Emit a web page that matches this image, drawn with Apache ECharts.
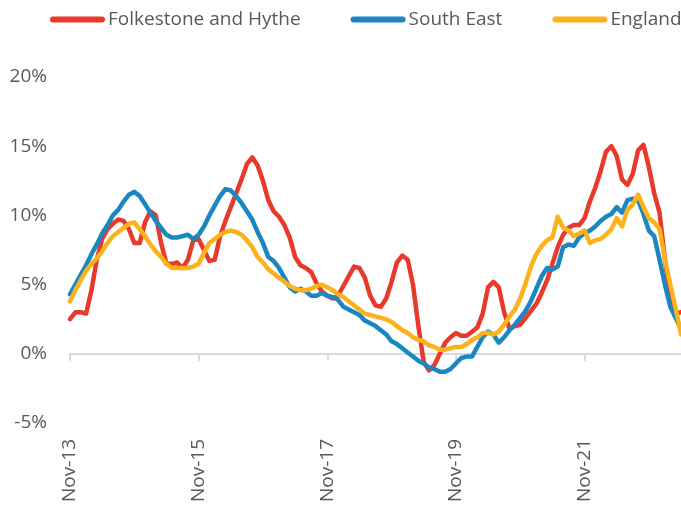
<!DOCTYPE html>
<html>
<head>
<meta charset="utf-8">
<script src="https://cdn.jsdelivr.net/npm/echarts@6/dist/echarts.min.js"></script>
<style>
html,body{margin:0;padding:0;background:#fff;}
#chart{width:681px;height:511px;}
</style>
</head>
<body>
<div id="chart"></div>
<script>
// Monthly series, Nov-13 .. May-23 (annual % change)
const startYear = 2013, startMonth = 10; // Nov 2013 (0-based month)
const monthNames = ['Jan','Feb','Mar','Apr','May','Jun','Jul','Aug','Sep','Oct','Nov','Dec'];

const folkestone = [
  2.5, 3.0, 3.0, 2.9, 4.6, 6.8, 8.3, 9.0, 9.4, 9.7,
  9.6, 9.0, 8.0, 8.0, 9.5, 10.3, 10.0, 8.0, 6.5, 6.5,
  6.6, 6.2, 6.8, 8.2, 8.3, 7.5, 6.7, 6.8, 8.5, 9.6,
  10.6, 11.6, 12.6, 13.7, 14.2, 13.6, 12.5, 11.1, 10.3, 9.9,
  9.3, 8.4, 7.0, 6.4, 6.2, 5.9, 5.1, 4.5, 4.2, 4.0,
  4.2, 4.9, 5.6, 6.3, 6.2, 5.5, 4.2, 3.5, 3.4, 4.0,
  5.2, 6.6, 7.1, 6.8, 5.0, 2.0, -0.6, -1.2, -0.8, 0.0,
  0.8, 1.2, 1.5, 1.3, 1.3, 1.6, 1.9, 2.9, 4.8, 5.2,
  4.8, 3.0, 1.8, 2.0, 2.1, 2.6, 3.1, 3.6, 4.4, 5.3,
  6.5, 7.7, 8.6, 9.1, 9.3, 9.3, 9.8, 11.0, 12.0, 13.2,
  14.6, 15.0, 14.3, 12.6, 12.2, 13.0, 14.7, 15.1, 13.5, 11.6,
  10.2, 6.8, 4.0, 2.9, 3.0
];
const southEast = [
  4.3, 5.0, 5.7, 6.4, 7.2, 7.9, 8.7, 9.3, 10.0, 10.4,
  11.0, 11.5, 11.7, 11.4, 10.8, 10.2, 9.6, 9.1, 8.6, 8.4,
  8.4, 8.5, 8.6, 8.3, 8.6, 9.2, 10.0, 10.7, 11.4, 11.9,
  11.8, 11.4, 10.9, 10.3, 9.7, 8.8, 8.0, 7.0, 6.7, 6.2,
  5.5, 4.8, 4.5, 4.7, 4.5, 4.2, 4.2, 4.4, 4.2, 4.1,
  3.9, 3.4, 3.2, 3.0, 2.8, 2.4, 2.2, 2.0, 1.7, 1.4,
  0.9, 0.7, 0.4, 0.1, -0.2, -0.5, -0.7, -1.0, -1.1, -1.3,
  -1.3, -1.1, -0.7, -0.3, -0.2, -0.2, 0.5, 1.2, 1.6, 1.4,
  0.8, 1.2, 1.7, 2.1, 2.6, 3.1, 3.8, 4.7, 5.6, 6.2,
  6.1, 6.3, 7.7, 7.9, 7.8, 8.4, 8.7, 8.9, 9.2, 9.6,
  9.9, 10.1, 10.6, 10.2, 11.1, 11.2, 11.1, 10.1, 8.9, 8.5,
  6.8, 5.0, 3.4, 2.6, 1.8
];
const england = [
  3.8, 4.6, 5.3, 6.0, 6.5, 6.9, 7.4, 8.0, 8.5, 8.8,
  9.1, 9.4, 9.5, 9.0, 8.5, 7.9, 7.4, 7.0, 6.5, 6.2,
  6.2, 6.2, 6.2, 6.3, 6.5, 7.3, 8.0, 8.3, 8.6, 8.8,
  8.9, 8.8, 8.6, 8.2, 7.7, 7.0, 6.6, 6.1, 5.8, 5.5,
  5.2, 4.9, 4.7, 4.6, 4.6, 4.7, 4.9, 5.0, 4.8, 4.6,
  4.3, 4.1, 3.8, 3.5, 3.2, 2.9, 2.8, 2.7, 2.6, 2.5,
  2.3, 2.0, 1.7, 1.5, 1.2, 1.0, 0.9, 0.6, 0.5, 0.3,
  0.3, 0.4, 0.5, 0.5, 0.7, 1.0, 1.2, 1.5, 1.5, 1.4,
  1.6, 2.1, 2.7, 3.2, 4.0, 5.1, 6.3, 7.2, 7.8, 8.2,
  8.4, 9.9, 9.1, 8.9, 8.5, 8.7, 8.9, 8.0, 8.2, 8.3,
  8.6, 9.0, 9.8, 9.2, 10.4, 10.8, 11.5, 10.6, 9.8, 9.5,
  9.0, 6.8, 5.0, 3.3, 1.4
];
const seriesNames = ['Folkestone and Hythe', 'South East', 'England'];
const yTicks = [-5, 0, 5, 10, 15, 20];

const categories = [];
for (let i = 0; i < folkestone.length; i++) {
  const m = (startMonth + i) % 12;
  const y = startYear + Math.floor((startMonth + i) / 12);
  categories.push(monthNames[m] + '-' + String(y % 100).padStart(2, '0'));
}

const colors = ['#E8392B', '#1B87C0', '#FBB21B'];
const txt = '#595959';
const font = 'Open Sans';

const chart = echarts.init(document.getElementById('chart'), null, {renderer: 'canvas'});
const pill = 'path://M3,0 L52,0 A3,3 0 0 1 52,6 L3,6 A3,3 0 0 1 3,0 Z';

chart.setOption({
  animation: false,
  backgroundColor: '#ffffff',
  color: colors,
  legend: {
    data: seriesNames.map(n => ({name: n, icon: pill})),
    orient: 'horizontal',
    left: 45,
    top: 5,
    width: 900,
    itemWidth: 55,
    itemHeight: 6,
    itemGap: 50,
    textStyle: {color: txt, fontSize: 19, fontFamily: font, padding: [0,0,0,-2]}
  },
  grid: {left: 70, right: 0, top: 77, bottom: 88, containLabel: false, outerBoundsMode: 'none'},
  xAxis: [
    {
      type: 'category',
      data: categories,
      boundaryGap: false,
      position: 'bottom',
      axisLine: {show: false, onZero: false},
      axisTick: {show: false},
      splitLine: {show: false},
      axisLabel: {
        interval: 23,
        rotate: 90,
        margin: 16,
        color: txt,
        fontSize: 19,
        fontFamily: font
      }
    },
    {
      type: 'category',
      data: categories,
      boundaryGap: false,
      position: 'bottom',
      axisLine: {show: true, onZero: true, onZeroAxisIndex: 0, lineStyle: {color: '#D9D9D9', width: 2}},
      axisTick: {show: true, interval: 23, length: 7, lineStyle: {color: '#D9D9D9', width: 2}},
      axisLabel: {show: false},
      splitLine: {show: false}
    }
  ],
  yAxis: {
    type: 'value',
    min: yTicks[0],
    max: yTicks[yTicks.length - 1],
    interval: 5,
    axisLine: {show: false},
    axisTick: {show: false},
    splitLine: {show: false},
    axisLabel: {
      formatter: '{value}%',
      color: txt,
      fontSize: 19,
      fontFamily: font,
      margin: 23
    }
  },
  series: [
    {name: seriesNames[0], type: 'line', data: folkestone, xAxisIndex: 0},
    {name: seriesNames[1], type: 'line', data: southEast, xAxisIndex: 0},
    {name: seriesNames[2], type: 'line', data: england, xAxisIndex: 0}
  ].map((s, i) => Object.assign(s, {
    showSymbol: false,
    symbol: 'none',
    lineStyle: {width: 4.5, color: colors[i], cap: 'round', join: 'round'},
    itemStyle: {color: colors[i]}
  }))
});
</script>
</body>
</html>
